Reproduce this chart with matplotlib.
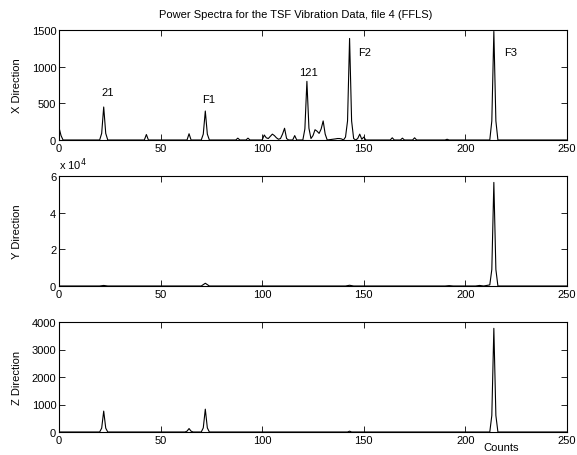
"""Power spectra of the TSF vibration data, file 4 (FFLS)."""

import matplotlib.pyplot as plt

# X direction spectrum (count, power)
X_COUNTS = [0, 1, 2, 20, 21, 22, 23, 24, 42, 43, 44, 63, 64, 65,
            70, 71, 72, 73, 74, 87, 88, 89, 92, 93, 94,
            100, 101, 102, 103, 104, 105, 106, 107, 108, 109, 110, 111, 112, 113,
            115, 116, 117, 120, 121, 122, 123, 124, 125, 126, 127, 128, 129,
            130, 131, 132, 136, 137, 138, 139, 140, 141, 142, 143, 144, 145,
            146, 147, 148, 149, 150, 151, 163, 164, 165, 168, 169, 170,
            174, 175, 176, 190, 191, 192, 212, 213, 214, 215, 216, 250]
X_POWER = [170, 60, 0, 0, 90, 450, 90, 0, 0, 75, 0, 0, 85, 0,
           0, 80, 395, 80, 0, 0, 25, 0, 0, 25, 0,
           0, 68, 30, 20, 50, 80, 60, 30, 10, 20, 80, 160, 20, 0,
           0, 60, 0, 0, 150, 800, 160, 20, 60, 140, 120, 90, 150,
           260, 80, 0, 15, 20, 20, 15, 0, 40, 260, 1385, 260, 20,
           0, 20, 80, 10, 40, 0, 0, 30, 0, 0, 25, 0,
           0, 30, 0, 0, 10, 0, 0, 260, 1480, 260, 0, 0]

# Y direction spectrum (count, power)
Y_COUNTS = [0, 20, 22, 24, 70, 72, 74, 141, 143, 145, 190, 192, 194,
            205, 207, 209, 211, 212, 213, 214, 215, 216, 250]
Y_POWER = [0, 0, 300, 0, 0, 1500, 0, 0, 400, 0, 0, 200, 0,
           0, 300, 0, 400, 600, 9000, 56500, 9000, 0, 0]

# Z direction spectrum (count, power)
Z_COUNTS = [0, 20, 21, 22, 23, 24, 62, 63, 64, 65, 66, 70, 71, 72, 73, 74,
            142, 143, 144, 212, 213, 214, 215, 216, 250]
Z_POWER = [0, 0, 140, 760, 140, 0, 0, 30, 125, 30, 0, 0, 150, 830, 150, 0,
           0, 30, 0, 0, 600, 3770, 600, 0, 0]

PEAK_LABELS = ["21", "F1", "121", "F2", "F3"]

plt.rcParams["font.family"] = ["Liberation Sans", "DejaVu Sans"]
plt.rcParams["font.size"] = 8

W, H = 577, 456
fig = plt.figure(figsize=(W / 100, H / 100), dpi=100)


def add_axes(top_px, bottom_px, left_px=59, right_px=567):
    return fig.add_axes([left_px / W, 1 - bottom_px / H,
                         (right_px - left_px) / W, (bottom_px - top_px) / H])


ax_x = add_axes(31, 141)
ax_y = add_axes(177, 287)
ax_z = add_axes(323, 433)

ax_x.plot(X_COUNTS, X_POWER, color="black", lw=0.8)
ax_y.plot(Y_COUNTS, [v / 1e4 for v in Y_POWER], color="black", lw=0.8)
ax_z.plot(Z_COUNTS, Z_POWER, color="black", lw=0.8)

for ax in (ax_x, ax_y, ax_z):
    ax.set_xlim(0, 250)
    ax.set_xticks(range(0, 251, 50))
    ax.tick_params(direction="in", top=True, right=True, length=4,
                   width=0.6, pad=2, labelsize=8)
    for spine in ax.spines.values():
        spine.set_linewidth(0.8)

ax_x.set_ylim(0, 1500)
ax_x.set_yticks([0, 500, 1000, 1500])
ax_y.set_ylim(0, 6)
ax_y.set_yticks([0, 2, 4, 6])
ax_z.set_ylim(0, 4000)
ax_z.set_yticks([0, 1000, 2000, 3000, 4000])

for ax, name in zip((ax_x, ax_y, ax_z), ("X", "Y", "Z")):
    ax.set_ylabel(f"{name} Direction")
    ax.yaxis.set_label_coords(-0.072, 0.5)

# peak annotations
label_spots = [(24, 650), (73.5, 565), (123, 930), (150.5, 1195), (222.5, 1195)]
for text, (lx, ly) in zip(PEAK_LABELS, label_spots):
    ax_x.text(lx, ly, text, ha="center", va="center")

ax_y.text(0, 1.04, r"x 10$^{4}$", transform=ax_y.transAxes,
          ha="left", va="bottom")

ax_x.text(0.465, 1.10, "Power Spectra for the TSF Vibration Data, file 4 (FFLS)",
          transform=ax_x.transAxes, ha="center", va="bottom")

ax_z.set_xlabel("Counts")
ax_z.xaxis.set_label_coords(0.87, -0.095)

fig.savefig("out.png", dpi=100)
